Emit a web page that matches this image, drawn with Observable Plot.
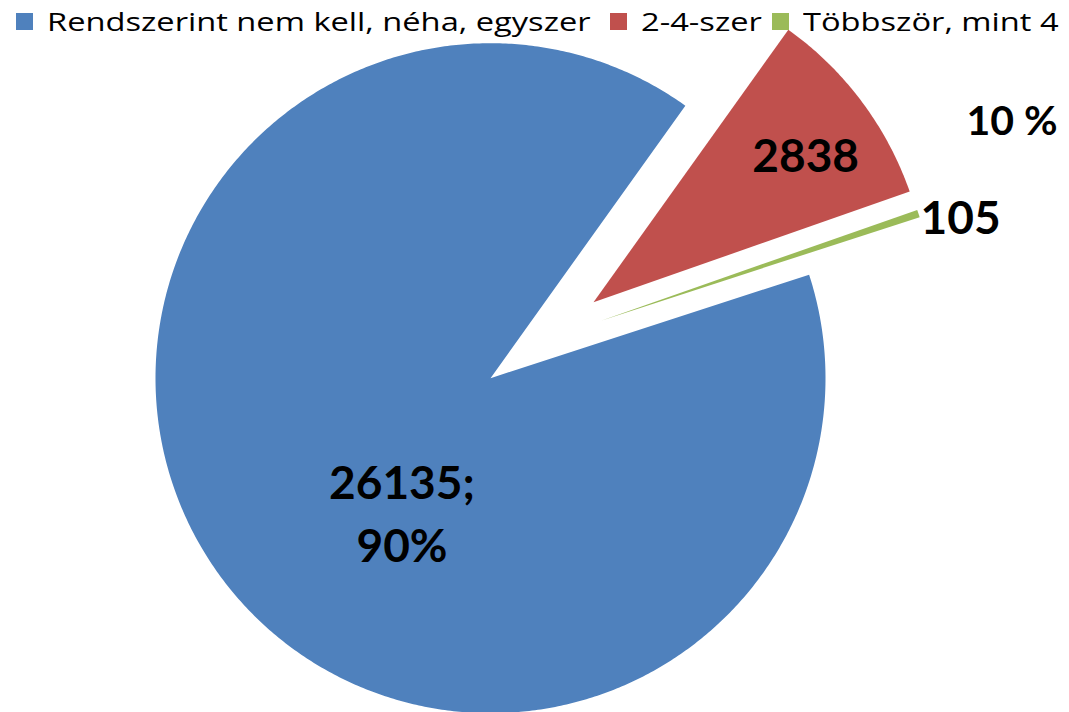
<!DOCTYPE html>
<html>
<head>
<meta charset="utf-8">
<script src="https://cdn.jsdelivr.net/npm/d3@7"></script>
<script src="https://cdn.jsdelivr.net/npm/@observablehq/plot@0.6"></script>
<style>
  html, body { margin: 0; padding: 0; background: #fff; }
  #wrap { width: 1069px; height: 712px; position: relative; overflow: hidden; }
  #legend { position: absolute; left: 0; top: 0; z-index: 2; width: 1069px; height: 42px; font-family: "Open Sans", sans-serif; font-size: 25.5px; color: #000; }
  .item { position: absolute; top: 0; height: 42px; display: flex; align-items: center; white-space: nowrap; }
  .sw { width: 17px; height: 17px; margin-right: 14px; }
  .txt { display: inline-block; transform: scaleX(1.28); transform-origin: left center; }
  svg { display: block; }
</style>
</head>
<body>
<div id="wrap">
  <div id="legend"></div>
  <div id="chart"></div>
</div>
<script>
// ---- data ----
const categories = ["Rendszerint nem kell, néha, egyszer", "2-4-szer", "Többször, mint 4"];
const values = [26135, 2838, 105];
const sliceLabels = ["26135;\n90%", "2838", "105"];
const extraLabel = "10 %";
const colors = ["#4F81BD", "#C0504D", "#9BBB59"];

// ---- layout config ----
const W = 1069, H = 712;
const startAngle = 72;                 // degrees clockwise from 12 o'clock
const explode = [                       // offset of each slice: distance (radii) and direction (deg)
  {d: 0, a: 0},
  {d: 0.382, a: 53.6},
  {d: 0.372, a: 62.5}
];
const labelPos = [                      // relative to the slice's apex: angle (deg), radius (radii)
  {a: 213.8, r: 0.475},
  {a: 54.7, r: 0.776},
  {a: 73.4, r: 1.12}
];
const extraPos = {a: 63.8, r: 1.735};
const legendLeft = [16, 610, 772];

const rad = d => d * Math.PI / 180;
const polar = (aDeg, r) => ({x: r * Math.sin(rad(aDeg)), y: r * Math.cos(rad(aDeg))});

const total = d3.sum(values);
let acc = startAngle;
const slices = values.map((v, i) => {
  const a0 = acc, a1 = acc + v / total * 360;
  acc = a1;
  const off = polar(explode[i].a, explode[i].d);
  const pts = [{x: off.x, y: off.y, k: i}];
  const n = Math.max(4, Math.ceil((a1 - a0) / 0.5));
  for (let j = 0; j <= n; j++) {
    const p = polar(a0 + (a1 - a0) * j / n, 1);
    pts.push({x: off.x + p.x, y: off.y + p.y, k: i});
  }
  pts.push({x: off.x, y: off.y, k: i});
  const lp = polar(labelPos[i].a, labelPos[i].r);
  return {i, a0, a1, off, pts, label: {x: off.x + lp.x, y: off.y + lp.y, text: sliceLabels[i]}};
});
const ep = polar(extraPos.a, extraPos.r);
const labelData = slices.map(s => s.label);

const R = 335, cx = 490, cy = 377.7;
const plot = Plot.plot({
  width: W, height: H,
  margin: 0,
  x: {domain: [-cx / R, (W - cx) / R], axis: null},
  y: {domain: [-(H - cy) / R, cy / R], axis: null},
  style: {background: "#fff"},
  marks: [
    ...slices.map(s => Plot.line(s.pts, {x: "x", y: "y", fill: colors[s.i], stroke: "none", curve: "linear"})),
    Plot.text(labelData, {x: "x", y: "y", text: "text", fontSize: 46, fontWeight: "bold",
      fontFamily: "Lato, 'Open Sans', sans-serif", fill: "#000", lineHeight: 1.37}),
    Plot.text([{x: ep.x, y: ep.y, text: extraLabel}], {x: "x", y: "y", text: "text", fontSize: 41,
      fontWeight: "bold", fontFamily: "Lato, 'Open Sans', sans-serif", fill: "#000"})
  ]
});
document.getElementById("chart").appendChild(plot);

const legend = d3.select("#legend");
categories.forEach((c, i) => {
  const it = legend.append("div").attr("class", "item").style("left", legendLeft[i] + "px");
  it.append("div").attr("class", "sw").style("background", colors[i]);
  it.append("span").attr("class", "txt").text(c);
});
</script>
</body>
</html>
